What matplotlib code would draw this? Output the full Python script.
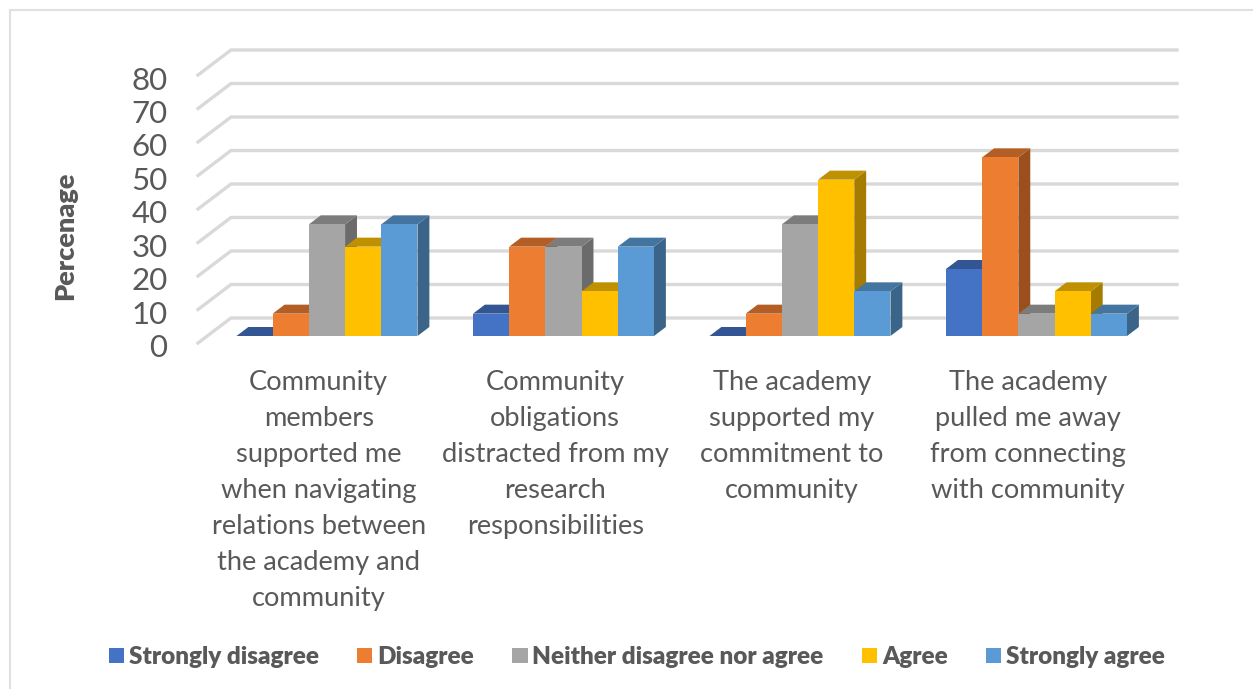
#!/usr/bin/env python3
"""Survey responses as an oblique 3D-style clustered bar chart."""
import matplotlib

matplotlib.use("Agg")
import matplotlib.pyplot as plt
from matplotlib.lines import Line2D
from matplotlib.patches import Patch, Polygon
from matplotlib.transforms import ScaledTranslation

CATEGORIES = [
    "Community\nmembers\nsupported me\nwhen navigating\nrelations between\nthe academy and\ncommunity",
    "Community\nobligations\ndistracted from my\nresearch\nresponsibilities",
    "The academy\nsupported my\ncommitment to\ncommunity",
    "The academy\npulled me away\nfrom connecting\nwith community",
]
SERIES = ["Strongly disagree", "Disagree", "Neither disagree nor agree", "Agree", "Strongly agree"]
STRONGLY_DISAGREE = [0, 6.67, 0, 20]
DISAGREE = [6.67, 26.67, 6.67, 53.33]
NEITHER = [33.33, 26.67, 33.33, 6.67]
AGREE = [26.67, 13.33, 46.67, 13.33]
STRONGLY_AGREE = [33.33, 26.67, 13.33, 6.67]
VALUES = [STRONGLY_DISAGREE, DISAGREE, NEITHER, AGREE, STRONGLY_AGREE]
Y_TICKS = [0, 10, 20, 30, 40, 50, 60, 70, 80]

FRONT = ["#4472C4", "#ED7D31", "#A5A5A5", "#FFC000", "#5B9BD5"]
TOP = ["#335593", "#B25E25", "#7C7C7C", "#BF9000", "#4475A0"]
SIDE = ["#2A4A80", "#9A4F1C", "#6B6B6B", "#A67C00", "#3A6488"]

W, H = 1253, 689
TEXT = "#595959"
GRID = "#D9D9D9"

plt.rcParams["font.family"] = ["Lato", "DejaVu Sans"]

fig = plt.figure(figsize=(W / 100, H / 100), dpi=100)
fig.patch.set_facecolor("white")
# frame shows along the top and left only
fig.add_artist(Line2D([9.5 / W, 9.5 / W, 1], [0, 1 - 10 / H, 1 - 10 / H], transform=fig.transFigure,
                      color="#E0E0E0", lw=1.5, zorder=-1, solid_joinstyle="miter"))

# the axes box is the front edge of the floor and wall
ax = fig.add_axes([198 / W, 1 - 343 / H, 946 / W, 268 / H])
ax.set_xlim(0, 4)
ax.set_ylim(0, 80)
ax.patch.set_alpha(0)
for spine in ax.spines.values():
    spine.set_visible(False)

# full depth of the chart in data units
DEPTH_X = 33 / 236.5
DEPTH_Y = 25 / 3.35
BAR_W = 36.2 / 236.5
BAR_T0 = 0.28
BAR_T1 = 0.64
GROUP_SHIFT = 1.5 / 236.5
LABEL_SHIFT = 2.5 / 236.5


def shift(x, y, t):
    return x + t * DEPTH_X, y + t * DEPTH_Y


for tick in Y_TICKS:
    ax.plot([0, DEPTH_X, 4 + DEPTH_X], [tick, tick + DEPTH_Y, tick + DEPTH_Y],
            color=GRID, lw=2.4, clip_on=False, zorder=1, solid_joinstyle="miter")


def draw_bar(x0, value, idx):
    x1 = x0 + BAR_W
    corners_front = [shift(x0, 0, BAR_T0), shift(x1, 0, BAR_T0),
                     shift(x1, value, BAR_T0), shift(x0, value, BAR_T0)]
    top = [shift(x0, value, BAR_T0), shift(x1, value, BAR_T0),
           shift(x1, value, BAR_T1), shift(x0, value, BAR_T1)]
    side = [shift(x1, 0, BAR_T0), shift(x1, 0, BAR_T1),
            shift(x1, value, BAR_T1), shift(x1, value, BAR_T0)]
    ax.add_patch(Polygon(side, facecolor=SIDE[idx], edgecolor="none", clip_on=False, zorder=3))
    ax.add_patch(Polygon(top, facecolor=TOP[idx], edgecolor="none", clip_on=False, zorder=3))
    ax.add_patch(Polygon(corners_front, facecolor=FRONT[idx], edgecolor="none", clip_on=False, zorder=3))


for cat in range(len(CATEGORIES)):
    for idx, vals in enumerate(VALUES):
        draw_bar(cat + 0.5 + GROUP_SHIFT - 2.5 * BAR_W + idx * BAR_W, vals[cat], idx)

ax.set_yticks(Y_TICKS)
ax.set_yticklabels([str(v) for v in Y_TICKS], fontsize=22.5, color=TEXT)
ax.set_xticks([i + 0.5 + LABEL_SHIFT for i in range(4)])
ax.set_xticklabels(CATEGORIES, fontsize=19.6, color=TEXT, linespacing=1.55)
ax.tick_params(axis="both", length=0)
ax.tick_params(axis="y", pad=22)
ax.tick_params(axis="x", pad=19.5)
# digits sit a little below their gridline ends
for label in ax.get_yticklabels():
    label.set_transform(label.get_transform() + ScaledTranslation(0, -0.03, fig.dpi_scale_trans))

fig.text(65 / W, 1 - 236 / H, "Percenage", rotation=90, ha="center", va="center",
         fontsize=19.5, fontweight="heavy", color=TEXT)

handles = [Patch(facecolor=c, edgecolor="none") for c in FRONT]
fig.legend(handles, SERIES, loc="center", bbox_to_anchor=(637 / W, 1 - 657 / H), ncols=5,
           frameon=False, prop={"size": 17.5, "weight": "heavy"}, labelcolor=TEXT,
           handlelength=0.62, handleheight=0.62, handletextpad=0.2, columnspacing=1.58)

fig.savefig("out.png", dpi=100)
